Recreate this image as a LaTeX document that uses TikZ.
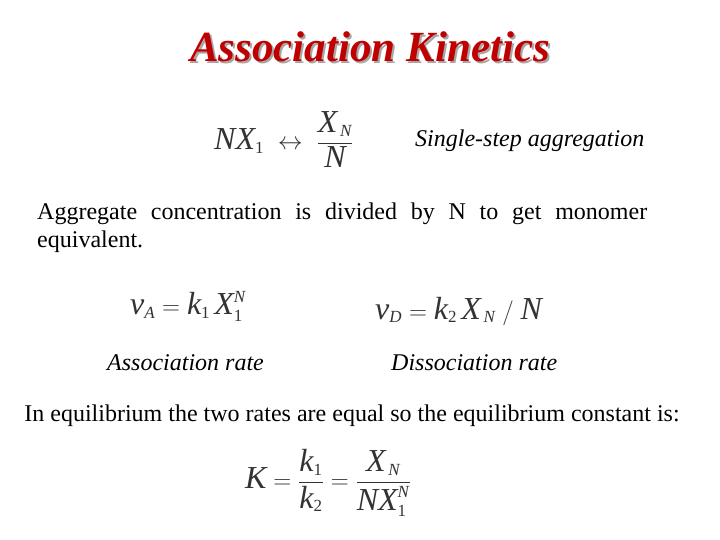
\documentclass[tikz,border=0pt]{standalone}
\usepackage{amsmath}
\usepackage{fontspec}
\setmainfont{Liberation Serif}
\definecolor{titlered}{HTML}{C00000}
\definecolor{eqgray}{HTML}{333333}
\newcommand{\vi}[1]{\text{\itshape #1}}
\newcommand{\su}[1]{_{\text{\fontsize{17}{17}\selectfont #1}}}
\newcommand{\sui}[1]{_{\text{\fontsize{17}{17}\selectfont\itshape #1}}}
\begin{document}
\begin{tikzpicture}[x=1pt,y=-1pt,
  txt/.style={inner sep=0pt,font=\fontsize{24}{28}\selectfont},
  eq/.style={inner sep=0pt,text=eqgray,font=\fontsize{32}{36}\selectfont}]
\fill[white] (0,0) rectangle (720,540);
\node[inner sep=0pt,text=gray!70,font=\fontsize{43}{46}\selectfont\bfseries\itshape] at (372,49) {Association Kinetics};
\node[inner sep=0pt,text=titlered,font=\fontsize{43}{46}\selectfont\bfseries\itshape] (title) at (370,47) {Association Kinetics};
\node[eq,anchor=west] (e1) at (214,140) {$\vi{NX}\su{1}\;\leftrightarrow\;\dfrac{\vi{X}\sui{\,N}}{\vi{N}}$};
\node[txt,anchor=west,font=\fontsize{24}{28}\selectfont\itshape] (single) at (415,141) {Single-step aggregation};
\node[txt,anchor=north west,text width=610pt,align=justify] (para) at (37,203) {\hyphenpenalty=10000 Aggregate concentration is divided by N to get monomer\linebreak equivalent.};
\node[eq,anchor=west] (va) at (130,306) {$\vi{v}\sui{A}=\vi{k}\su{1}\,\vi{X}\su{1}^{\text{\fontsize{17}{17}\selectfont\itshape N}}$};
\node[eq,anchor=west] (vd) at (375,311) {$\vi{v}\sui{D}=\vi{k}\su{2}\,\vi{X}\sui{\,N}\;/\;\vi{N}$};
\node[txt,anchor=west,font=\fontsize{24}{28}\selectfont\itshape] (arate) at (107,363) {Association rate};
\node[txt,anchor=west,font=\fontsize{24}{28}\selectfont\itshape] (drate) at (391,363) {Dissociation rate};
\node[txt] (equil) at (352,416) {In equilibrium the two rates are equal so the equilibrium constant is:};
\node[eq,anchor=west] (K) at (245,483) {$\vi{K}=\dfrac{\vi{k}\su{1}}{\vi{k}\su{2}}=\dfrac{\vi{X}\sui{\,N}}{\vi{NX}\su{1}^{\text{\fontsize{17}{17}\selectfont\itshape N}}}$};
\end{tikzpicture}
\end{document}
